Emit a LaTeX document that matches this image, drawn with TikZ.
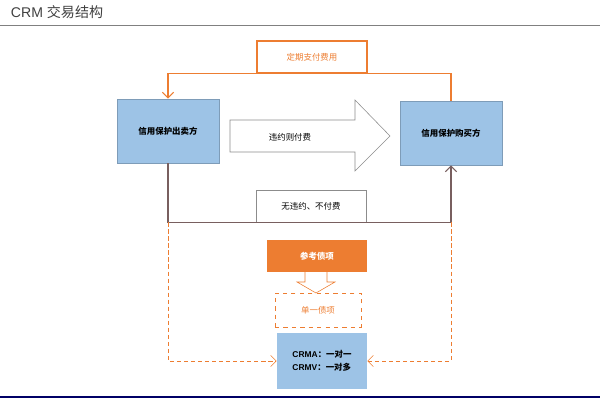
\documentclass[tikz,border=0pt]{standalone}
\usepackage{fontspec}
\setmainfont{Liberation Sans}
\newfontfamily\cjk{Noto Sans CJK SC}
\usetikzlibrary{positioning, shapes, arrows.meta, calc}
\definecolor{partyblue}{RGB}{157,195,230}
\definecolor{crmorange}{RGB}{237,125,49}
\definecolor{linebrown}{RGB}{120,95,95}
\begin{document}
\begin{tikzpicture}[x=0.025cm, y=-0.025cm, font=\cjk\fontsize{6}{7}\selectfont,
    party/.style={rectangle, fill=partyblue, draw=partyblue!80!black, minimum width=2.55cm, minimum height=1.6cm},
    labelbox/.style={rectangle, fill=white, minimum width=2.75cm, minimum height=0.8cm}]
                  \useasboundingbox (0,0) rectangle (600,400);
                  % Title
                  \node[anchor=west, text=black!75, font=\fontsize{10}{12}\selectfont] (title) at (6,12) {CRM \cjk 交易结构};
                  \draw[black!50] (0,25) -- (600,25);
                  \draw[blue!40!black, line width=1pt] (0,397) -- (600,397);

                  % Hollow arrows
                  \draw[black!45, fill=white] (230,120) -- (355,120) -- (355,100) -- (390,136) -- (355,171)
                        -- (355,152) -- (230,152) -- cycle;
                  \draw[crmorange, fill=white] (305,272) -- (305,282) -- (297,282) -- (316,293) -- (335,282)
                        -- (327,282) -- (327,272);

                  % Nodes
                  \node[party, font=\cjk\fontsize{6}{7}\selectfont\bfseries] (seller) at (168,131) {信用保护出卖方};
                  \node[party, font=\cjk\fontsize{6}{7}\selectfont\bfseries] (buyer) at (451,133) {信用保护购买方};
                  \node[labelbox, draw=crmorange, thick, text=crmorange] (fee) at (312,57) {定期支付费用};
                  \node[labelbox, draw=black!45] (nodefault) at (311,206) {无违约、不付费};
                  \node (pay) at (290,137) {违约则付费};
                  \node[rectangle, fill=crmorange, text=white, font=\cjk\fontsize{6}{7}\selectfont\bfseries,
                        minimum width=2.5cm, minimum height=0.8cm] (ref) at (317,256) {参考债项};
                  \node[rectangle, draw=crmorange, dashed, text=crmorange, minimum width=2.15cm, minimum height=0.85cm] (single) at (318,310) {单一债项};
                  \node[rectangle, fill=partyblue, minimum width=2.25cm, minimum height=1.42cm, align=left,
                        font=\fontsize{6}{9}\selectfont\bfseries] (crm) at (322,361) {CRMA\cjk：一对一\\CRMV\cjk：一对多};

                  % Connectors
                  \coordinate (topleft) at (seller.north |- fee.south);
                  \coordinate (topright) at (buyer.north |- fee.south);
                  \coordinate (botleft) at (seller.south |- nodefault.south);
                  \coordinate (botright) at (buyer.south |- nodefault.south);
                  \draw[crmorange, thick, -{Straight Barb[length=4pt]}] (buyer.north) -- (topright) -- (topleft) -- (seller.north);
                  \draw[linebrown, thick, -{Straight Barb[length=4pt]}] (seller.south) -- (botleft) -- (botright) -- (buyer.south);
                  \draw[crmorange, densely dashed, -{Straight Barb[length=4pt]}] (botleft) |- (crm.west);
                  \draw[crmorange, densely dashed, -{Straight Barb[length=4pt]}] (botright) |- (crm.east);
              \end{tikzpicture}
\end{document}
